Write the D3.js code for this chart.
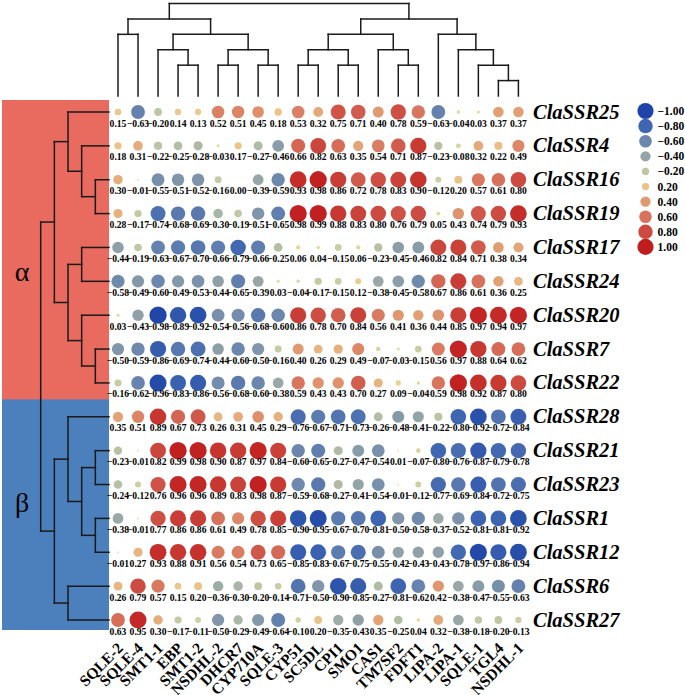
<!DOCTYPE html>
<html>
<head>
<meta charset="utf-8">
<script src="https://cdn.jsdelivr.net/npm/d3@7"></script>
<style>
	body { margin: 0; background: #fff; }
</style>
</head>
<body>
<div id="chart"></div>
<script>

// Data

var genes = ['SQLE-2', 'SQLE-4', 'SMT1-1', 'EBP', 'SMT1-2', 'NSDHL-2', 'DHCR7', 'CYP710A', 'SQLE-3',
	'CYP51', 'SC5DL', 'CPI1', 'SMO1', 'CAS1', 'TM7SF2', 'FDFT1', 'LIPA-2', 'LIPA-1', 'SQLE-1', 'TGL4', 'NSDHL-1'];

var ssrs = ['ClaSSR25', 'ClaSSR4', 'ClaSSR16', 'ClaSSR19', 'ClaSSR17', 'ClaSSR24', 'ClaSSR20', 'ClaSSR7',
	'ClaSSR22', 'ClaSSR28', 'ClaSSR21', 'ClaSSR23', 'ClaSSR1', 'ClaSSR12', 'ClaSSR6', 'ClaSSR27'];

var corr = [
	[0.15, -0.63, -0.20, 0.14, 0.13, 0.52, 0.51, 0.45, 0.18, 0.53, 0.32, 0.75, 0.71, 0.40, 0.78, 0.59, -0.63, -0.04, 0.03, 0.37, 0.37],
	[0.18, 0.31, -0.22, -0.25, -0.28, -0.03, 0.17, -0.27, -0.46, 0.66, 0.82, 0.63, 0.35, 0.54, 0.71, 0.87, -0.23, -0.08, 0.32, 0.22, 0.49],
	[0.30, -0.01, -0.55, -0.51, -0.52, -0.16, 0.00, -0.39, -0.59, 0.93, 0.98, 0.86, 0.72, 0.78, 0.83, 0.90, -0.12, 0.20, 0.57, 0.61, 0.80],
	[0.28, -0.17, -0.74, -0.68, -0.69, -0.30, -0.19, -0.51, -0.65, 0.98, 0.99, 0.88, 0.83, 0.80, 0.76, 0.79, 0.05, 0.43, 0.74, 0.79, 0.93],
	[-0.44, -0.19, -0.63, -0.67, -0.70, -0.66, -0.79, -0.66, -0.25, 0.06, 0.04, -0.15, 0.06, -0.23, -0.45, -0.46, 0.82, 0.84, 0.71, 0.38, 0.34],
	[-0.58, -0.49, -0.60, -0.49, -0.53, -0.44, -0.65, -0.39, 0.03, -0.04, -0.17, -0.15, 0.12, -0.38, -0.45, -0.58, 0.67, 0.86, 0.61, 0.36, 0.25],
	[0.03, -0.43, -0.98, -0.89, -0.92, -0.54, -0.56, -0.68, -0.60, 0.86, 0.78, 0.70, 0.84, 0.56, 0.41, 0.36, 0.44, 0.85, 0.97, 0.94, 0.97],
	[-0.50, -0.59, -0.86, -0.69, -0.74, -0.44, -0.60, -0.50, -0.16, 0.40, 0.26, 0.29, 0.49, -0.07, -0.03, -0.15, 0.56, 0.97, 0.88, 0.64, 0.62],
	[-0.16, -0.62, -0.96, -0.83, -0.86, -0.56, -0.68, -0.60, -0.38, 0.59, 0.43, 0.43, 0.70, 0.27, 0.09, -0.04, 0.59, 0.98, 0.92, 0.87, 0.80],
	[0.35, 0.51, 0.89, 0.67, 0.73, 0.26, 0.31, 0.45, 0.29, -0.76, -0.67, -0.71, -0.73, -0.26, -0.48, -0.41, -0.22, -0.80, -0.92, -0.72, -0.84],
	[-0.23, -0.01, 0.82, 0.99, 0.98, 0.90, 0.87, 0.97, 0.84, -0.60, -0.65, -0.27, -0.47, -0.54, 0.01, -0.07, -0.80, -0.76, -0.87, -0.79, -0.78],
	[-0.24, -0.12, 0.76, 0.96, 0.96, 0.89, 0.83, 0.98, 0.87, -0.59, -0.68, -0.27, -0.41, -0.54, -0.01, -0.12, -0.77, -0.69, -0.84, -0.72, -0.75],
	[-0.38, -0.01, 0.77, 0.86, 0.86, 0.61, 0.49, 0.78, 0.85, -0.90, -0.95, -0.67, -0.70, -0.81, -0.50, -0.58, -0.37, -0.52, -0.81, -0.81, -0.92],
	[-0.01, 0.27, 0.93, 0.88, 0.91, 0.56, 0.54, 0.73, 0.65, -0.85, -0.83, -0.67, -0.75, -0.55, -0.42, -0.43, -0.43, -0.78, -0.97, -0.86, -0.94],
	[0.26, 0.79, 0.57, 0.15, 0.20, -0.36, -0.30, -0.20, -0.14, -0.71, -0.50, -0.90, -0.85, -0.27, -0.81, -0.62, 0.42, -0.38, -0.47, -0.55, -0.63],
	[0.63, 0.95, 0.30, -0.17, -0.11, -0.50, -0.29, -0.49, -0.64, -0.10, 0.20, -0.35, -0.43, 0.35, -0.25, 0.04, 0.32, -0.38, -0.18, -0.20, -0.13]
];

// trees: [merge level, left, right]
var geneTree = [6,
	[5, [4, 'SQLE-2', 'SQLE-4'],
		[4, [3, 'SMT1-1', [2, 'EBP', 'SMT1-2']], [3, [2, 'NSDHL-2', 'DHCR7'], [2, 'CYP710A', 'SQLE-3']]]],
	[5, [4, [3, [2, 'CYP51', 'SC5DL'], [2, 'CPI1', 'SMO1']], [3, 'CAS1', [2, 'TM7SF2', 'FDFT1']]],
		[4, 'LIPA-2', [3, 'LIPA-1', [2, 'SQLE-1', [1, 'TGL4', 'NSDHL-1']]]]]];

var ssrTree = [5,
	[4, [3, 'ClaSSR25', [2, 'ClaSSR4', [1, 'ClaSSR16', 'ClaSSR19']]],
		[3, [2, 'ClaSSR17', 'ClaSSR24'], [2, 'ClaSSR20', [1, 'ClaSSR7', 'ClaSSR22']]]],
	[4, [3, 'ClaSSR28', [2, [1, 'ClaSSR21', 'ClaSSR23'], [1, 'ClaSSR1', 'ClaSSR12']]],
		[3, 'ClaSSR6', 'ClaSSR27']]];

var groups = [
	{name: '\u03b1', first: 'ClaSSR25', last: 'ClaSSR22', color: '#e96b60'},
	{name: '\u03b2', first: 'ClaSSR28', last: 'ClaSSR27', color: '#4c80bd'}
];

var legendValues = [-1.00, -0.80, -0.60, -0.40, -0.20, 0.20, 0.40, 0.60, 0.80, 1.00];

var colorStops = [-1, -0.8, -0.6, -0.4, -0.2, 0, 0.2, 0.4, 0.6, 0.8, 1],
	colorRange = ['#1d44a6', '#3f66b1', '#6c87ad', '#95a5a6', '#bdc7a3', '#e7dc9c',
		'#eac186', '#e09970', '#d7735d', '#cc4a3f', '#c01e1e'];

// Scales

var
	serif = '"Liberation Serif", "Times New Roman", Times, serif',
	svg = d3.select('#chart').append('svg')
		.attr('width', 685)
		.attr('height', 695)
		.style('font-family', serif),

	x = d3.scalePoint().domain(genes).range([118, 518.4]),
	y = d3.scalePoint().domain(ssrs).range([112, 620]),
	r = d3.scaleSqrt().domain([0, 1]).range([0, 8.7]),
	color = d3.scaleLinear().domain(colorStops).range(colorRange),

	geneLevel = d3.scaleLinear().domain([0, 6]).range([96, 3.5]),
	ssrLevel = d3.scaleLinear().domain([0, 5]).range([109, 40.7]),
	fmt = d3.format('.2f');

// Group bands (label sits a bit off the band centre, as in the figure)

var labelShift = [21, -12];

groups.forEach(function(g, i) {
	var y0 = y(g.first) - y.step() / 2 - 0.5,
		y1 = y(g.last) + y.step() / 2 + 0.5;
	if (g.first === ssrs[0]) y0 = y(g.first) - 12;
	if (g.last === ssrs[ssrs.length - 1]) y1 = y(g.last) + 10;
	svg.append('rect')
		.attr('x', 2)
		.attr('y', y0)
		.attr('width', 107)
		.attr('height', y1 - y0)
		.style('fill', g.color);
	svg.append('text')
		.attr('x', 22)
		.attr('y', (y0 + y1) / 2 + labelShift[i])
		.attr('text-anchor', 'middle')
		.attr('dominant-baseline', 'central')
		.style('font-size', '28px')
		.text(g.name);
});

// Dendrograms

function drawTree(tree, leafPos, levelPos, vertical) {
	var root = d3.hierarchy(tree, function(d) { return Array.isArray(d) ? d.slice(1) : null; });
	root.eachAfter(function(n) {
		if (n.children) {
			n.pos = (n.children[0].pos + n.children[1].pos) / 2;
			n.lev = levelPos(n.data[0]);
		} else {
			n.pos = leafPos(n.data);
			n.lev = levelPos(0);
		}
	});
	var lines = [];
	root.each(function(n) {
		if (!n.children) return;
		var a = n.children[0], b = n.children[1];
		lines.push([a.pos, n.lev, b.pos, n.lev]);
		lines.push([a.pos, n.lev, a.pos, a.lev]);
		lines.push([b.pos, n.lev, b.pos, b.lev]);
	});
	svg.append('g').selectAll('line')
		.data(lines)
		.enter()
		.append('line')
		.attr('x1', function(d) { return vertical ? d[0] : d[1]; })
		.attr('y1', function(d) { return vertical ? d[1] : d[0]; })
		.attr('x2', function(d) { return vertical ? d[2] : d[3]; })
		.attr('y2', function(d) { return vertical ? d[3] : d[2]; })
		.style('stroke', '#1a1a1a')
		.style('stroke-width', 1.5)
		.style('stroke-linecap', 'square');
}

drawTree(geneTree, x, geneLevel, true);
drawTree(ssrTree, y, ssrLevel, false);

// Bubbles

var cells = [];
corr.forEach(function(row, i) {
	row.forEach(function(v, j) {
		cells.push({ssr: ssrs[i], gene: genes[j], value: v});
	});
});

svg.append('g').selectAll('circle')
	.data(cells)
	.enter()
	.append('circle')
	.attr('cx', function(d) { return x(d.gene); })
	.attr('cy', function(d) { return y(d.ssr); })
	.attr('r', function(d) { return r(Math.abs(d.value)); })
	.style('fill', function(d) { return color(d.value); });

svg.append('g').selectAll('text')
	.data(cells)
	.enter()
	.append('text')
	.attr('x', function(d) { return x(d.gene); })
	.attr('y', function(d) { return y(d.ssr) + 14.5; })
	.attr('text-anchor', 'middle')
	.style('font-size', '9.6px')
	.style('font-weight', 'bold')
	.text(function(d) { return fmt(d.value); });

// Row and column labels

svg.append('g').selectAll('text')
	.data(ssrs)
	.enter()
	.append('text')
	.attr('x', 533)
	.attr('y', function(d) { return y(d) + 6.5; })
	.style('font-size', '20.5px')
	.style('font-weight', 'bold')
	.style('font-style', 'italic')
	.text(function(d) { return d; });

svg.append('g').selectAll('text')
	.data(genes)
	.enter()
	.append('text')
	.attr('transform', function(d) { return 'translate(' + (x(d) + 6) + ',649) rotate(-45)'; })
	.attr('text-anchor', 'end')
	.style('font-size', '15.5px')
	.style('font-weight', 'bold')
	.text(function(d) { return d; });

// Legend

var legend = svg.append('g').selectAll('g')
	.data(legendValues)
	.enter()
	.append('g')
	.attr('transform', function(d, i) { return 'translate(645.5,' + (111 + i * 15.1) + ')'; });

legend.append('circle')
	.attr('r', function(d) { return r(Math.abs(d)) * 0.93; })
	.style('fill', function(d) { return color(d); });

legend.append('text')
	.attr('x', 12)
	.attr('y', 4)
	.style('font-size', '11.5px')
	.style('font-weight', 'bold')
	.text(function(d) { return fmt(d); });

</script>
</body>
</html>
